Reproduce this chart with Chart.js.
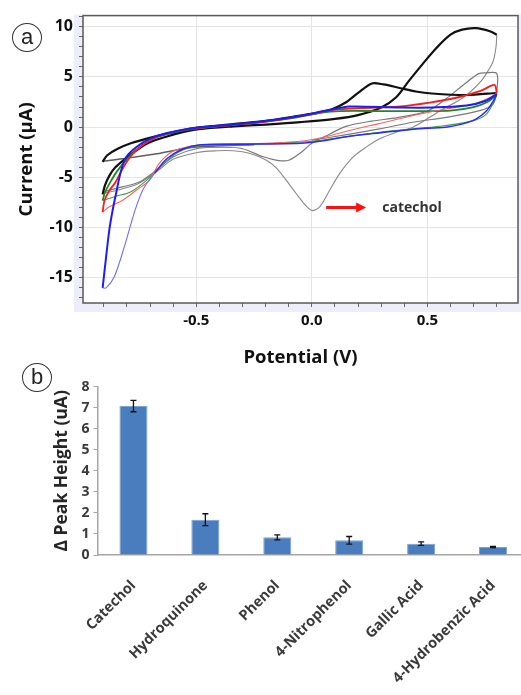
<!DOCTYPE html>
<html>
<head>
<meta charset="utf-8">
<script src="https://cdn.jsdelivr.net/npm/chart.js@4.4.0/dist/chart.umd.min.js"></script>
<style>
  html, body { margin: 0; padding: 0; background: #fff; overflow: hidden; }
  body { width: 521px; height: 695px; position: relative; }
  #cv-chart { position: absolute; left: 0; top: 0; }
  #bar-chart { position: absolute; left: 0; top: 372px; }
  .panel-tag {
    position: absolute; width: 28px; height: 27px;
    border: 1px solid #333; border-radius: 50%;
    font: 22px "Liberation Sans", Arial, sans-serif; color: #222;
    text-align: center; line-height: 25px; background: #fff;
  }
</style>
</head>
<body>
<canvas id="cv-chart" width="521" height="372"></canvas>
<canvas id="bar-chart" width="530" height="323"></canvas>
<div class="panel-tag" style="left:12px; top:23px;">a</div>
<div class="panel-tag" style="left:22px; top:363px;">b</div>
<script>
// ---- panel a: cyclic voltammograms, [potential V, current uA] ----
const blackSweepLow = [
  [-0.905, -3.45], [-0.885, -2.8], [-0.84, -2.15], [-0.78, -1.58], [-0.71, -1.12],
  [-0.62, -0.62], [-0.51, -0.1], [-0.34, 0.3], [-0.2, 0.62], [-0.05, 1.15],
  [0.03, 1.45], [0.09, 1.8], [0.15, 2.5], [0.2, 3.4], [0.26, 4.35], [0.31, 4.25],
  [0.38, 3.9], [0.45, 3.55], [0.52, 3.35], [0.67, 3.2], [0.8, 3.4]
];
const blackSweepHigh = [
  [-0.905, -6.7], [-0.895, -5.8], [-0.875, -4.8], [-0.85, -4.0], [-0.81, -3.2],
  [-0.77, -2.5], [-0.71, -1.6], [-0.63, -0.95], [-0.55, -0.45], [-0.49, -0.2],
  [-0.34, 0.07], [-0.2, 0.26], [-0.05, 0.5], [0.1, 0.82], [0.2, 1.2], [0.3, 1.95],
  [0.365, 2.97], [0.42, 4.6], [0.48, 6.3], [0.54, 7.9], [0.6, 9.2], [0.65, 9.7],
  [0.71, 9.85], [0.77, 9.55], [0.8, 9.2]
];
const graySweepPeak = [
  [0.8, 9.2], [0.797, 8.0], [0.785, 6.6], [0.765, 5.7], [0.733, 4.6], [0.683, 3.45],
  [0.632, 2.6], [0.567, 1.8], [0.51, 0.98], [0.437, 0.0], [0.365, -0.5],
  [0.293, -1.16], [0.235, -1.99], [0.178, -2.98], [0.12, -4.62], [0.077, -6.28],
  [0.035, -7.9], [0.0, -8.3], [-0.03, -7.7], [-0.068, -6.6], [-0.11, -5.3],
  [-0.154, -4.05], [-0.197, -3.3], [-0.27, -2.6], [-0.34, -2.35], [-0.41, -2.35],
  [-0.49, -2.5], [-0.6, -3.2], [-0.67, -4.4], [-0.75, -5.6], [-0.83, -6.2], [-0.905, -6.6]
];
const graySweepShoulder = [
  [-0.905, -6.45], [-0.82, -5.95], [-0.746, -5.46], [-0.674, -4.3], [-0.602, -3.0],
  [-0.5, -2.15], [-0.385, -2.0], [-0.3, -2.15], [-0.21, -2.95], [-0.15, -3.3],
  [-0.1, -3.3], [-0.04, -2.4], [0.0, -1.6], [0.08, -0.66], [0.15, 0.1], [0.26, 0.6],
  [0.37, 0.95], [0.5, 1.6], [0.58, 2.8], [0.65, 4.1], [0.72, 5.3], [0.75, 5.4],
  [0.8, 5.35], [0.8, 3.6], [0.784, 2.3], [0.726, 1.64], [0.582, 0.98], [0.437, 0.49],
  [0.293, -0.17], [0.15, -0.75], [0.0, -1.3]
];
const graySweepBase = [
  [-0.905, -3.4], [-0.82, -3.15], [-0.67, -2.65], [-0.53, -2.05], [-0.39, -1.85], [-0.25, -1.75]
];
const redSweepFwd = [
  [-0.905, -8.45], [-0.897, -7.3], [-0.876, -6.3], [-0.85, -5.5], [-0.82, -4.2],
  [-0.79, -3.1], [-0.76, -2.3], [-0.7, -1.3], [-0.63, -0.65], [-0.52, -0.15],
  [-0.35, 0.2], [-0.2, 0.55], [-0.05, 1.1], [0.05, 1.55], [0.1, 1.75], [0.22, 1.9],
  [0.37, 2.05], [0.51, 2.45], [0.63, 2.95], [0.73, 3.6], [0.79, 4.2], [0.8, 3.4]
];
const redSweepRev = [
  [0.8, 3.4], [0.77, 2.95], [0.7, 2.3], [0.58, 1.8], [0.44, 1.15], [0.29, 0.35],
  [0.15, -0.4], [0.05, -1.0], [-0.05, -1.4], [-0.2, -1.6], [-0.4, -1.68], [-0.5, -1.8],
  [-0.6, -2.4], [-0.66, -3.6], [-0.703, -5.29], [-0.76, -6.28], [-0.818, -7.27],
  [-0.876, -7.93], [-0.905, -8.45]
];
const blueSweepFwd = [
  [-0.905, -16.0], [-0.89, -12.9], [-0.876, -10.2], [-0.862, -8.3], [-0.847, -6.6],
  [-0.825, -4.3], [-0.804, -3.0], [-0.76, -2.0], [-0.7, -1.15], [-0.63, -0.6],
  [-0.515, -0.1], [-0.34, 0.26], [-0.2, 0.6], [-0.05, 1.1], [0.03, 1.5], [0.1, 1.8],
  [0.16, 2.05], [0.38, 1.95], [0.52, 1.95], [0.67, 2.15], [0.75, 2.6], [0.8, 3.3]
];
const blueSweepRev = [
  [0.8, 3.3], [0.785, 2.6], [0.755, 1.6], [0.71, 0.8], [0.65, 0.3], [0.58, 0.0],
  [0.44, -0.2], [0.3, -0.55], [0.15, -0.95], [0.05, -1.35], [-0.05, -1.6],
  [-0.3, -1.7], [-0.48, -1.75], [-0.56, -2.2], [-0.63, -3.2], [-0.68, -4.6]
];
const blueSweepTail = [
  [-0.68, -4.6], [-0.71, -5.46], [-0.732, -6.28], [-0.76, -7.93], [-0.782, -9.57],
  [-0.811, -11.89], [-0.854, -14.86], [-0.89, -16.0], [-0.905, -16.0]
];
const greenSweepFwd = [
  [-0.905, -7.3], [-0.895, -6.5], [-0.87, -5.4], [-0.84, -4.3], [-0.8, -3.2],
  [-0.76, -2.3], [-0.7, -1.3], [-0.62, -0.65], [-0.5, -0.15], [-0.3, 0.3],
  [-0.1, 0.85], [0.08, 1.55], [0.3, 1.6], [0.5, 1.6], [0.6, 1.65], [0.7, 2.0],
  [0.76, 2.5], [0.8, 3.2]
];
const greenSweepRev = [
  [0.8, 3.2], [0.79, 2.6], [0.755, 1.3], [0.7, 0.65], [0.58, 0.16], [0.44, -0.17],
  [0.3, -0.5], [0.15, -0.95], [0.0, -1.4], [-0.3, -1.75], [-0.48, -1.85],
  [-0.57, -2.4], [-0.64, -3.6], [-0.7, -5.0], [-0.78, -6.4], [-0.85, -6.9], [-0.905, -7.3]
];

// arrow + label pointing at the catechol reduction peak
const arrowFrom = [0.062, -8.0];
const arrowTo = [0.235, -8.0];
const arrowText = 'catechol';

// ---- panel b: peak height response ----
const compounds = ['Catechol', 'Hydroquinone', 'Phenol', '4-Nitrophenol', 'Gallic Acid', '4-Hydrobenzic Acid'];
const peakHeights = [7.08, 1.68, 0.84, 0.7, 0.54, 0.38];
const peakErrors = [0.27, 0.28, 0.12, 0.18, 0.08, 0.03];

const toXY = pts => pts.map(p => ({x: p[0], y: p[1]}));

const sweep = (label, pts, color, width) => ({
    label: label,
    data: toXY(pts),
    showLine: true,
    borderColor: color,
    borderWidth: width,
    pointRadius: 0,
    tension: 0.3,
    fill: false
});

const isMultiple = (v, step) => Math.abs(v / step - Math.round(v / step)) < 1e-6;

// lavender backdrop, frame and the arrow annotation
const cvDecor = {
    id: 'cvDecor',
    beforeDraw(chart) {
        const {ctx, chartArea: a} = chart;
        ctx.save();
        ctx.fillStyle = '#eeeefb';
        ctx.fillRect(a.left - 9, a.top - 1, chart.width - a.left + 9, a.bottom - a.top + 10);
        ctx.fillStyle = '#ffffff';
        ctx.fillRect(a.left, a.top, a.right - a.left, a.bottom - a.top);
        ctx.restore();
    },
    afterDraw(chart) {
        const {ctx, chartArea: a, scales: {x, y}} = chart;
        ctx.save();
        ctx.strokeStyle = '#5a5a5a';
        ctx.lineWidth = 1.5;
        ctx.strokeRect(a.left, a.top, a.right - a.left, a.bottom - a.top);

        const x0 = x.getPixelForValue(arrowFrom[0]);
        const x1 = x.getPixelForValue(arrowTo[0]);
        const yy = y.getPixelForValue(arrowFrom[1]);
        ctx.strokeStyle = '#ff1010';
        ctx.fillStyle = '#ff1010';
        ctx.lineWidth = 3;
        ctx.beginPath();
        ctx.moveTo(x0, yy);
        ctx.lineTo(x1 - 8, yy);
        ctx.stroke();
        ctx.beginPath();
        ctx.moveTo(x1, yy);
        ctx.lineTo(x1 - 10, yy - 5);
        ctx.lineTo(x1 - 10, yy + 5);
        ctx.closePath();
        ctx.fill();

        ctx.fillStyle = '#333';
        ctx.font = 'bold 14px "Open Sans"';
        ctx.textBaseline = 'middle';
        ctx.fillText(arrowText, x.getPixelForValue(0.305), yy);
        ctx.restore();
    }
};

const cvChart = new Chart(document.getElementById('cv-chart'), {
    type: 'scatter',
    data: {
        datasets: [
            sweep('blue', blueSweepFwd, '#1c1cff', 2),
            sweep('blue return', blueSweepRev, '#2a2aff', 1.5),
            sweep('blue tail', blueSweepTail, '#6e6eff', 1.1),
            sweep('red', redSweepFwd, '#ff1a1a', 1.8),
            sweep('red return', redSweepRev, '#ff6262', 1.1),
            sweep('green', greenSweepFwd, '#1e8a1e', 1.8),
            sweep('green return', greenSweepRev, '#3f9f3f', 1.1),
            sweep('black low', blackSweepLow, '#111', 2.2),
            sweep('black high', blackSweepHigh, '#111', 2.2),
            sweep('gray base', graySweepBase, '#5e5e5e', 1.4),
            sweep('gray shoulder', graySweepShoulder, '#7a7a7a', 1.2),
            sweep('gray peak', graySweepPeak, '#8a8a8a', 1.1)
        ]
    },
    options: {
        responsive: false,
        animation: false,
        layout: { padding: { top: 14, right: 3, left: 0, bottom: 0 } },
        plugins: { legend: { display: false }, tooltip: { enabled: false } },
        scales: {
            x: {
                type: 'linear',
                min: -0.99,
                max: 0.892,
                afterFit: s => { s.height = 69; },
                border: { display: false },
                grid: {
                    color: c => (c.tick && isMultiple(c.tick.value, 0.5)) ? '#e4e4e4' : 'transparent',
                    tickColor: '#666',
                    tickLength: 4
                },
                ticks: {
                    stepSize: 0.1,
                    includeBounds: false,
                    autoSkip: false,
                    maxRotation: 0,
                    padding: 5,
                    color: '#111',
                    font: { family: '"Open Sans"', size: 15, weight: 'bold' },
                    callback: v => isMultiple(v, 0.5) ? v.toFixed(1) : ''
                },
                title: {
                    display: true,
                    text: 'Potential (V)',
                    color: '#111',
                    font: { family: '"Open Sans"', size: 18.5, weight: 'bold' },
                    padding: { top: 0, bottom: 3 }
                }
            },
            y: {
                min: -17.5,
                max: 11.1,
                afterFit: s => { s.width = 83; },
                border: { display: false },
                grid: {
                    color: c => (c.tick && isMultiple(c.tick.value, 5)) ? '#e4e4e4' : 'transparent',
                    tickColor: '#666',
                    tickLength: 4
                },
                ticks: {
                    stepSize: 1,
                    includeBounds: false,
                    autoSkip: false,
                    padding: 6,
                    color: '#111',
                    font: { family: '"Open Sans"', size: 16, weight: 'bold' },
                    callback: v => isMultiple(v, 5) ? String(v) : ''
                },
                title: {
                    display: true,
                    text: 'Current (µA)',
                    color: '#111',
                    font: { family: '"Open Sans"', size: 18.5, weight: 'bold' },
                    padding: { top: 16, bottom: 0 }
                }
            }
        }
    },
    plugins: [cvDecor]
});

// error bars drawn from the bar scale
const errorBars = {
    id: 'errorBars',
    afterDatasetsDraw(chart) {
        const {ctx, scales: {y}} = chart;
        const meta = chart.getDatasetMeta(0);
        ctx.save();
        ctx.strokeStyle = '#111';
        ctx.lineWidth = 1.3;
        meta.data.forEach((bar, i) => {
            const top = y.getPixelForValue(peakHeights[i] + peakErrors[i]);
            const bot = y.getPixelForValue(peakHeights[i] - peakErrors[i]);
            ctx.beginPath();
            ctx.moveTo(bar.x, top);
            ctx.lineTo(bar.x, bot);
            ctx.moveTo(bar.x - 3, top);
            ctx.lineTo(bar.x + 3, top);
            ctx.moveTo(bar.x - 3, bot);
            ctx.lineTo(bar.x + 3, bot);
            ctx.stroke();
        });
        ctx.restore();
    }
};

const barChart = new Chart(document.getElementById('bar-chart'), {
    type: 'bar',
    data: {
        labels: compounds,
        datasets: [{
            label: 'Δ Peak Height',
            data: peakHeights,
            backgroundColor: '#4a7dbd',
            borderColor: '#7aa3d6',
            borderWidth: 1,
            categoryPercentage: 1,
            barPercentage: 0.39
        }]
    },
    options: {
        responsive: false,
        animation: false,
        layout: { padding: { top: 14.7, right: 1, left: 0, bottom: 0 } },
        plugins: { legend: { display: false }, tooltip: { enabled: false } },
        scales: {
            x: {
                afterFit: s => { s.height = 140; },
                grid: { display: false },
                border: { display: true, color: '#a6a6a6', width: 1.5 },
                ticks: {
                    autoSkip: false,
                    minRotation: 45,
                    maxRotation: 45,
                    padding: 14,
                    color: '#3a3a3a',
                    font: { family: '"Open Sans"', size: 14.5, weight: 'bold' }
                }
            },
            y: {
                min: 0,
                max: 8,
                afterFit: s => { s.width = 97.5; },
                border: { display: true, color: '#a6a6a6', width: 1.5 },
                grid: { drawOnChartArea: false, color: '#a6a6a6', tickLength: 4 },
                ticks: {
                    stepSize: 1,
                    padding: 4,
                    color: '#3a3a3a',
                    font: { family: '"Open Sans"', size: 14, weight: 'bold' }
                },
                title: {
                    display: true,
                    text: 'Δ Peak Height (uA)',
                    color: '#262626',
                    font: { family: '"Open Sans"', size: 17.5, weight: 'bold' },
                    padding: { top: 52, bottom: 0 }
                }
            }
        }
    },
    plugins: [errorBars]
});
</script>
</body>
</html>
